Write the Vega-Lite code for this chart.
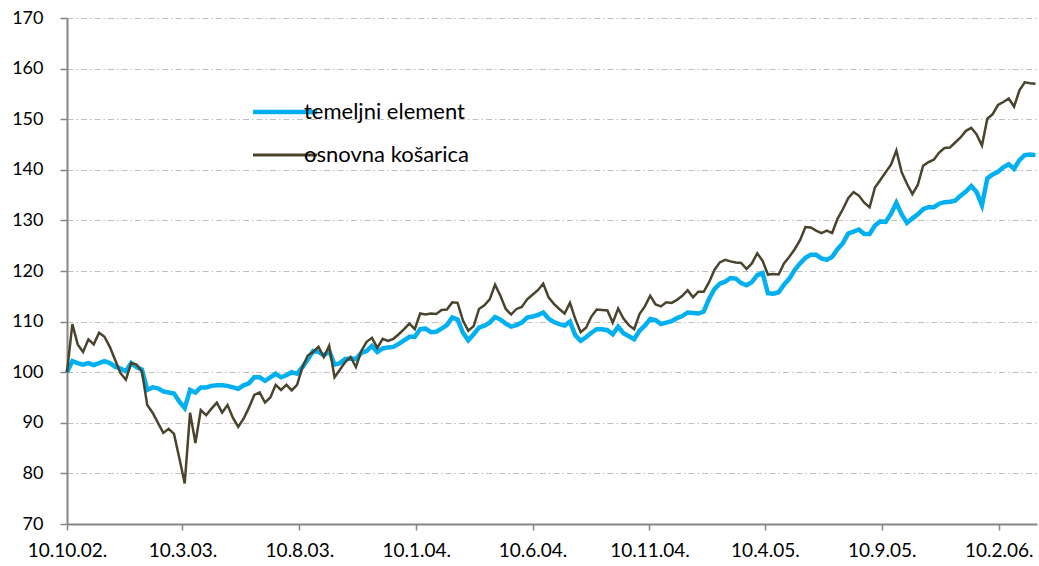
{
"$schema": "https://vega.github.io/schema/vega-lite/v6.json",
"width": 970, "height": 506,
"autosize": {"type": "none"},
"padding": {"left": 67, "top": 18, "right": 2, "bottom": 42},
"background": "white",
"config": {"view": {"stroke": null}, "font": "Lato"},
"data": {"values": [
{"d":"2002-10-10","t":100,"o":100},
{"d":"2002-10-17","t":102.2,"o":109.5},
{"d":"2002-10-24","t":101.8,"o":105.5},
{"d":"2002-10-31","t":101.5,"o":104},
{"d":"2002-11-07","t":101.8,"o":106.5},
{"d":"2002-11-14","t":101.4,"o":105.5},
{"d":"2002-11-21","t":101.8,"o":107.8},
{"d":"2002-11-28","t":102.2,"o":107},
{"d":"2002-12-05","t":101.8,"o":105},
{"d":"2002-12-12","t":101.1,"o":102.4},
{"d":"2002-12-19","t":100.7,"o":99.8},
{"d":"2002-12-26","t":100.2,"o":98.5},
{"d":"2003-01-02","t":101.8,"o":101.8},
{"d":"2003-01-09","t":101,"o":101.5},
{"d":"2003-01-16","t":100.5,"o":100.2},
{"d":"2003-01-23","t":96.5,"o":93.5},
{"d":"2003-01-30","t":97,"o":92},
{"d":"2003-02-06","t":96.8,"o":90},
{"d":"2003-02-13","t":96.2,"o":88},
{"d":"2003-02-20","t":96,"o":88.8},
{"d":"2003-02-27","t":95.8,"o":87.8},
{"d":"2003-03-06","t":94.2,"o":83},
{"d":"2003-03-13","t":92.9,"o":78},
{"d":"2003-03-20","t":96.5,"o":92},
{"d":"2003-03-27","t":96,"o":86},
{"d":"2003-04-03","t":97,"o":92.5},
{"d":"2003-04-10","t":97,"o":91.5},
{"d":"2003-04-17","t":97.3,"o":92.8},
{"d":"2003-04-24","t":97.4,"o":94},
{"d":"2003-05-01","t":97.4,"o":92},
{"d":"2003-05-08","t":97.3,"o":93.5},
{"d":"2003-05-15","t":97,"o":91},
{"d":"2003-05-22","t":96.7,"o":89.2},
{"d":"2003-05-29","t":97.4,"o":90.8},
{"d":"2003-06-05","t":97.8,"o":93},
{"d":"2003-06-12","t":99,"o":95.5},
{"d":"2003-06-19","t":99,"o":96},
{"d":"2003-06-26","t":98.3,"o":94},
{"d":"2003-07-03","t":99,"o":95},
{"d":"2003-07-10","t":99.7,"o":97.5},
{"d":"2003-07-17","t":99,"o":96.5},
{"d":"2003-07-24","t":99.4,"o":97.5},
{"d":"2003-07-31","t":100,"o":96.4},
{"d":"2003-08-07","t":99.7,"o":97.5},
{"d":"2003-08-14","t":101,"o":101},
{"d":"2003-08-21","t":102.5,"o":103.3},
{"d":"2003-08-28","t":104.2,"o":104},
{"d":"2003-09-04","t":104,"o":105},
{"d":"2003-09-11","t":103.3,"o":103},
{"d":"2003-09-18","t":104.2,"o":105.2},
{"d":"2003-09-25","t":101.5,"o":99},
{"d":"2003-10-02","t":101.8,"o":100.5},
{"d":"2003-10-09","t":102.6,"o":102},
{"d":"2003-10-16","t":102.7,"o":103},
{"d":"2003-10-23","t":102.6,"o":101},
{"d":"2003-10-30","t":103.8,"o":104.2},
{"d":"2003-11-06","t":104.2,"o":106},
{"d":"2003-11-13","t":105.2,"o":106.8},
{"d":"2003-11-20","t":104,"o":104.8},
{"d":"2003-11-27","t":104.7,"o":106.6},
{"d":"2003-12-04","t":104.9,"o":106.2},
{"d":"2003-12-11","t":105,"o":106.6},
{"d":"2003-12-18","t":105.6,"o":107.5},
{"d":"2003-12-25","t":106.3,"o":108.5},
{"d":"2004-01-01","t":107,"o":109.6},
{"d":"2004-01-08","t":107,"o":108.5},
{"d":"2004-01-15","t":108.5,"o":111.6},
{"d":"2004-01-22","t":108.6,"o":111.4},
{"d":"2004-01-29","t":107.9,"o":111.6},
{"d":"2004-02-05","t":108,"o":111.5},
{"d":"2004-02-12","t":108.6,"o":112.3},
{"d":"2004-02-19","t":109.3,"o":112.4},
{"d":"2004-02-26","t":110.8,"o":113.8},
{"d":"2004-03-04","t":110.4,"o":113.7},
{"d":"2004-03-11","t":107.8,"o":110.2},
{"d":"2004-03-18","t":106.3,"o":108.2},
{"d":"2004-03-25","t":107.5,"o":109.1},
{"d":"2004-04-01","t":108.8,"o":112.5},
{"d":"2004-04-08","t":109.2,"o":113.2},
{"d":"2004-04-15","t":109.8,"o":114.4},
{"d":"2004-04-22","t":110.9,"o":117.3},
{"d":"2004-04-29","t":110.4,"o":115.1},
{"d":"2004-05-06","t":109.6,"o":112.5},
{"d":"2004-05-13","t":109,"o":111.4},
{"d":"2004-05-20","t":109.3,"o":112.5},
{"d":"2004-05-27","t":109.8,"o":112.9},
{"d":"2004-06-03","t":110.8,"o":114.4},
{"d":"2004-06-10","t":111,"o":115.3},
{"d":"2004-06-17","t":111.3,"o":116.2},
{"d":"2004-06-24","t":111.8,"o":117.5},
{"d":"2004-07-01","t":110.6,"o":114.8},
{"d":"2004-07-08","t":109.9,"o":113.5},
{"d":"2004-07-15","t":109.5,"o":112.5},
{"d":"2004-07-22","t":109.2,"o":111.6},
{"d":"2004-07-29","t":110,"o":113.7},
{"d":"2004-08-05","t":107.3,"o":110.5},
{"d":"2004-08-12","t":106.2,"o":107.9},
{"d":"2004-08-19","t":106.9,"o":108.8},
{"d":"2004-08-26","t":107.8,"o":111},
{"d":"2004-09-02","t":108.5,"o":112.4},
{"d":"2004-09-09","t":108.5,"o":112.3},
{"d":"2004-09-16","t":108.3,"o":112.2},
{"d":"2004-09-23","t":107.5,"o":109.8},
{"d":"2004-09-30","t":109,"o":112.6},
{"d":"2004-10-07","t":107.7,"o":110.6},
{"d":"2004-10-14","t":107.1,"o":109.3},
{"d":"2004-10-21","t":106.5,"o":108.5},
{"d":"2004-10-28","t":108.2,"o":111.5},
{"d":"2004-11-04","t":109.2,"o":113},
{"d":"2004-11-11","t":110.5,"o":115.1},
{"d":"2004-11-18","t":110.3,"o":113.4},
{"d":"2004-11-25","t":109.5,"o":113},
{"d":"2004-12-02","t":109.8,"o":113.8},
{"d":"2004-12-09","t":110.1,"o":113.7},
{"d":"2004-12-16","t":110.7,"o":114.3},
{"d":"2004-12-23","t":111.1,"o":115.1},
{"d":"2004-12-30","t":111.8,"o":116.2},
{"d":"2005-01-06","t":111.7,"o":114.8},
{"d":"2005-01-13","t":111.6,"o":115.9},
{"d":"2005-01-20","t":112,"o":115.9},
{"d":"2005-01-27","t":114.5,"o":117.8},
{"d":"2005-02-03","t":116.4,"o":120.2},
{"d":"2005-02-10","t":117.5,"o":121.7},
{"d":"2005-02-17","t":117.9,"o":122.2},
{"d":"2005-02-24","t":118.6,"o":121.9},
{"d":"2005-03-03","t":118.5,"o":121.7},
{"d":"2005-03-10","t":117.6,"o":121.6},
{"d":"2005-03-17","t":117.2,"o":120.4},
{"d":"2005-03-24","t":117.8,"o":121.5},
{"d":"2005-03-31","t":119.2,"o":123.5},
{"d":"2005-04-07","t":119.6,"o":122},
{"d":"2005-04-14","t":115.6,"o":119.3},
{"d":"2005-04-21","t":115.5,"o":119.4},
{"d":"2005-04-28","t":115.8,"o":119.3},
{"d":"2005-05-05","t":117.3,"o":121.5},
{"d":"2005-05-12","t":118.5,"o":122.8},
{"d":"2005-05-19","t":120.2,"o":124.3},
{"d":"2005-05-26","t":121.5,"o":126.1},
{"d":"2005-06-02","t":122.6,"o":128.7},
{"d":"2005-06-09","t":123.2,"o":128.6},
{"d":"2005-06-16","t":123.2,"o":128},
{"d":"2005-06-23","t":122.5,"o":127.5},
{"d":"2005-06-30","t":122.2,"o":128},
{"d":"2005-07-07","t":122.8,"o":127.5},
{"d":"2005-07-14","t":124.3,"o":130.3},
{"d":"2005-07-21","t":125.5,"o":132.2},
{"d":"2005-07-28","t":127.4,"o":134.4},
{"d":"2005-08-04","t":127.8,"o":135.6},
{"d":"2005-08-11","t":128.2,"o":134.9},
{"d":"2005-08-18","t":127.3,"o":133.5},
{"d":"2005-08-25","t":127.3,"o":132.6},
{"d":"2005-09-01","t":129,"o":136.5},
{"d":"2005-09-08","t":129.8,"o":138},
{"d":"2005-09-15","t":129.7,"o":139.5},
{"d":"2005-09-22","t":131.3,"o":141},
{"d":"2005-09-29","t":133.5,"o":143.8},
{"d":"2005-10-06","t":131.2,"o":139.5},
{"d":"2005-10-13","t":129.5,"o":137.2},
{"d":"2005-10-20","t":130.4,"o":135.2},
{"d":"2005-10-27","t":131.2,"o":137},
{"d":"2005-11-03","t":132.2,"o":140.8},
{"d":"2005-11-10","t":132.6,"o":141.5},
{"d":"2005-11-17","t":132.6,"o":142},
{"d":"2005-11-24","t":133.3,"o":143.4},
{"d":"2005-12-01","t":133.6,"o":144.3},
{"d":"2005-12-08","t":133.7,"o":144.4},
{"d":"2005-12-15","t":133.9,"o":145.4},
{"d":"2005-12-22","t":134.9,"o":146.4},
{"d":"2005-12-29","t":135.7,"o":147.7},
{"d":"2006-01-05","t":136.8,"o":148.3},
{"d":"2006-01-12","t":135.6,"o":147},
{"d":"2006-01-19","t":133,"o":144.8},
{"d":"2006-01-26","t":138.3,"o":150.1},
{"d":"2006-02-02","t":139.1,"o":151},
{"d":"2006-02-09","t":139.6,"o":152.8},
{"d":"2006-02-16","t":140.5,"o":153.4},
{"d":"2006-02-23","t":141.1,"o":154.1},
{"d":"2006-03-02","t":140.2,"o":152.5},
{"d":"2006-03-09","t":141.9,"o":155.7},
{"d":"2006-03-16","t":142.9,"o":157.3},
{"d":"2006-03-23","t":143,"o":157.1},
{"d":"2006-03-30","t":142.9,"o":157}
]},
"transform": [{"fold": ["t", "o"], "as": ["key", "value"]}],
"encoding": {
  "x": {"field": "d", "type": "temporal",
    "scale": {"type": "utc", "domain": [{"year": 2002, "month": 10, "date": 10, "utc": true}, {"year": 2006, "month": 4, "date": 1, "utc": true}]},
    "axis": {"title": null, "grid": false,
      "values": [
        {"year": 2002, "month": 10, "date": 10, "utc": true},
        {"year": 2003, "month": 3, "date": 10, "utc": true},
        {"year": 2003, "month": 8, "date": 10, "utc": true},
        {"year": 2004, "month": 1, "date": 10, "utc": true},
        {"year": 2004, "month": 6, "date": 10, "utc": true},
        {"year": 2004, "month": 11, "date": 10, "utc": true},
        {"year": 2005, "month": 4, "date": 10, "utc": true},
        {"year": 2005, "month": 9, "date": 10, "utc": true},
        {"year": 2006, "month": 2, "date": 10, "utc": true}],
      "labelExpr": "utcFormat(datum.value, '%-d.%-m.%y.')",
      "labelFontSize": 19, "labelColor": "#000000", "labelFont": "Lato",
      "labelPadding": 11, "labelOverlap": false, "labelFlush": false,
      "domainColor": "#868686", "domainWidth": 2,
      "tickColor": "#868686", "tickSize": 6, "tickWidth": 1.5}},
  "y": {"field": "value", "type": "quantitative",
    "scale": {"domain": [70, 170], "nice": false, "zero": false},
    "axis": {"title": null, "values": [70, 80, 90, 100, 110, 120, 130, 140, 150, 160, 170],
      "labelFontSize": 18, "labelColor": "#000000", "labelFont": "Lato", "labelPadding": 17,
      "domainColor": "#868686", "domainWidth": 2,
      "tickColor": "#868686", "tickSize": 7, "tickWidth": 1.5,
      "grid": true, "gridColor": "#bfbfbf", "gridWidth": 1, "gridDash": [6, 3, 1.5, 3]}},
  "color": {"field": "key", "type": "nominal",
    "scale": {"domain": ["t", "o"], "range": ["#00B0F0", "#4A442D"]},
    "legend": {"title": null, "orient": "none", "legendX": 207, "legendY": 83,
      "symbolType": "stroke", "symbolSize": 4100, "symbolStrokeWidth": 3,
      "labelFontSize": 22, "labelFont": "Lato", "labelColor": "#000000", "labelOffset": 8,
      "labelLimit": 0,
      "rowPadding": 21, "padding": 0,
      "labelExpr": "datum.value === 't' ? 'temeljni element' : 'osnovna košarica'",
      "encode": {"symbols": {"update": {"strokeWidth": {"signal": "datum.value === 't' ? 4.5 : 3"}}}}}}
},
"layer": [
  {"transform": [{"filter": "datum.key === 't'"}], "mark": {"type": "line", "strokeWidth": 4.5}},
  {"transform": [{"filter": "datum.key === 'o'"}], "mark": {"type": "line", "strokeWidth": 2.5}}
]
}
